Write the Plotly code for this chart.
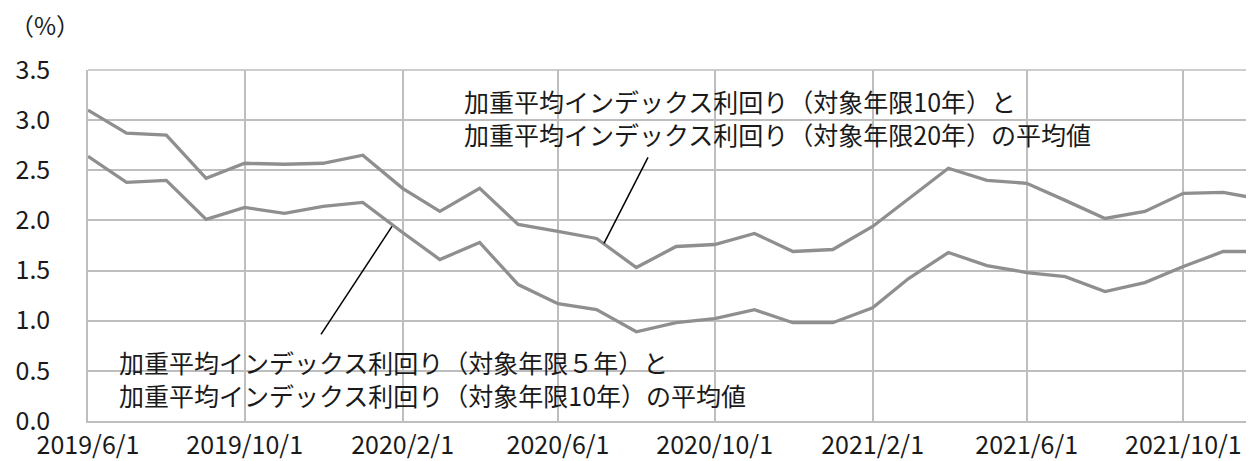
import plotly.graph_objects as go

dates = ["2019-06-01", "2019-07-01", "2019-08-01", "2019-09-01", "2019-10-01", "2019-11-01",
         "2019-12-01", "2020-01-01", "2020-02-01", "2020-03-01", "2020-04-01", "2020-05-01",
         "2020-06-01", "2020-07-01", "2020-08-01", "2020-09-01", "2020-10-01", "2020-11-01",
         "2020-12-01", "2021-01-01", "2021-02-01", "2021-03-01", "2021-04-01", "2021-05-01",
         "2021-06-01", "2021-07-01", "2021-08-01", "2021-09-01", "2021-10-01", "2021-11-01",
         "2021-12-01"]

avg_10_20 = [3.10, 2.87, 2.85, 2.42, 2.57, 2.56, 2.57, 2.65, 2.32, 2.09, 2.32, 1.96,
             1.89, 1.82, 1.53, 1.74, 1.76, 1.87, 1.69, 1.71, 1.94, 2.22, 2.52, 2.40,
             2.37, 2.20, 2.02, 2.09, 2.27, 2.28, 2.21]

avg_5_10 = [2.64, 2.38, 2.40, 2.01, 2.13, 2.07, 2.14, 2.18, 1.88, 1.61, 1.78, 1.36,
            1.17, 1.11, 0.89, 0.98, 1.02, 1.11, 0.98, 0.98, 1.13, 1.42, 1.68, 1.55,
            1.48, 1.44, 1.29, 1.38, 1.54, 1.69, 1.69]

x_tick_vals = ["2019-06-01", "2019-10-01", "2020-02-01", "2020-06-01", "2020-10-01",
               "2021-02-01", "2021-06-01", "2021-10-01"]
x_tick_text = ["2019/6/1", "2019/10/1", "2020/2/1", "2020/6/1", "2020/10/1",
               "2021/2/1", "2021/6/1", "2021/10/1"]
y_tick_vals = [0.0, 0.5, 1.0, 1.5, 2.0, 2.5, 3.0, 3.5]

label_top = "加重平均インデックス利回り（対象年限10年）と<br>加重平均インデックス利回り（対象年限20年）の平均値"
label_bottom = "加重平均インデックス利回り（対象年限５年）と<br>加重平均インデックス利回り（対象年限10年）の平均値"

FONT = "Noto Sans CJK JP"
TEXT_COLOR = "#1a1a1a"
LINE_COLOR = "#8f8f8f"
GRID_COLOR = "#bebebe"

fig = go.Figure()
fig.add_trace(go.Scatter(x=dates, y=avg_10_20, mode="lines",
                         line=dict(color=LINE_COLOR, width=3.3), showlegend=False))
fig.add_trace(go.Scatter(x=dates, y=avg_5_10, mode="lines",
                         line=dict(color=LINE_COLOR, width=3.3), showlegend=False))

# page has an 8px body margin: figure is offset by OFF in the window
OFF = 8
W, H = 1254 - OFF, 461 - OFF
L, R, T, B = 88 - OFF, 0, 69.5 - OFF, 461 - 420.7
pw = W - L - R
ph = H - T - B


def px(xp):
    # window pixel -> paper coordinate
    return (xp - OFF - L) / pw


def py(yp):
    return (H - B - (yp - OFF)) / ph


shapes = [
    dict(type="rect", xref="paper", yref="paper", x0=px(465), x1=px(1120), y0=py(157), y1=py(71),
         fillcolor="white", line=dict(width=0), layer="between"),
    dict(type="rect", xref="paper", yref="paper", x0=px(120), x1=px(779), y0=py(412), y1=py(340),
         fillcolor="white", line=dict(width=0), layer="between"),
    dict(type="line", xref="paper", yref="paper", x0=px(604), y0=py(243), x1=px(648), y1=py(157),
         line=dict(color="black", width=1.5)),
    dict(type="line", xref="paper", yref="paper", x0=px(392), y0=py(226), x1=px(321), y1=py(334),
         line=dict(color="black", width=1.5)),
    dict(type="line", xref="paper", yref="paper", x0=0, x1=1, y0=1, y1=1,
         line=dict(color=GRID_COLOR, width=1.5), layer="below"),
]

annotations = [
    dict(text=label_top, xref="paper", yref="paper", x=px(462), y=py(117),
         xanchor="left", yanchor="middle", align="left", showarrow=False,
         font=dict(family=FONT, size=25, color=TEXT_COLOR)),
    dict(text=label_bottom, xref="paper", yref="paper", x=px(117), y=py(378),
         xanchor="left", yanchor="middle", align="left", showarrow=False,
         font=dict(family=FONT, size=25, color=TEXT_COLOR)),
    dict(text="（%）", xref="paper", yref="paper", x=px(8), y=py(24),
         xanchor="left", yanchor="middle", showarrow=False,
         font=dict(family=FONT, size=24, color=TEXT_COLOR)),
]

fig.update_layout(
    width=W, height=H,
    margin=dict(l=L, r=R, t=T, b=B, pad=0),
    paper_bgcolor="white", plot_bgcolor="white",
    font=dict(family=FONT, size=25, color=TEXT_COLOR),
    shapes=shapes, annotations=annotations,
    showlegend=False,
)
fig.update_xaxes(
    type="date", range=["2019-06-01", "2021-11-25"], automargin=False,
    tickmode="array", tickvals=x_tick_vals, ticktext=x_tick_text,
    showgrid=True, gridcolor=GRID_COLOR, gridwidth=1.5,
    showline=True, linecolor=GRID_COLOR, linewidth=2,
    ticks="", ticklabelstandoff=1, zeroline=False,
    tickfont=dict(family=FONT, size=25, color=TEXT_COLOR),
)
fig.update_yaxes(
    range=[0, 3.5], tickmode="array", tickvals=y_tick_vals, automargin=False,
    tickformat=".1f",
    showgrid=True, gridcolor=GRID_COLOR, gridwidth=1.5,
    showline=True, linecolor=GRID_COLOR, linewidth=1.5,
    ticks="", ticklabelstandoff=31, zeroline=False,
    tickfont=dict(family=FONT, size=25, color=TEXT_COLOR),
)

fig.write_html("out.html")
